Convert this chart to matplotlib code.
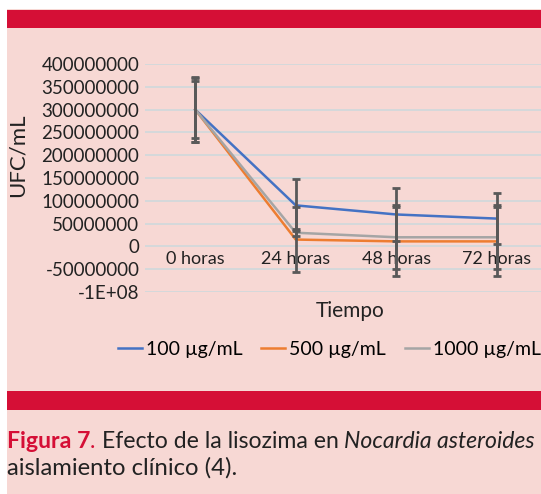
import matplotlib
matplotlib.use("Agg")
import matplotlib.pyplot as plt
from matplotlib.lines import Line2D
import matplotlib.patches as mpatches

# ---- data ----
categories = ["0 horas", "24 horas", "48 horas", "72 horas"]
series_names = ["100 µg/mL", "500 µg/mL", "1000 µg/mL"]
val_100 = [300e6, 90e6, 70e6, 61e6]
val_500 = [300e6, 15e6, 11e6, 11e6]
val_1000 = [300e6, 30e6, 20e6, 20e6]
err_100 = [62e6, 57e6, 59e6, 56e6]
err_500 = [72e6, 72e6, 75e6, 75e6]
err_1000 = [70e6, 8e6, 70e6, 70e6]
ytick_vals = [-100e6, -50e6, 0, 50e6, 100e6, 150e6, 200e6, 250e6, 300e6, 350e6, 400e6]
ytick_labels = ["-1E+08", "-50000000", "0", "50000000", "100000000", "150000000",
                "200000000", "250000000", "300000000", "350000000", "400000000"]
colors = ["#4472C4", "#ED7D31", "#A5A5A5"]

PINK = "#F7D8D4"
RED = "#D50F36"
TXT = "#222222"
FONT = "Lato"

W, H = 541, 494
fig = plt.figure(figsize=(W / 100, H / 100), dpi=100)
fig.patch.set_facecolor("white")

# background panels
fig.add_artist(mpatches.Rectangle((7 / W, 0), 1, 1 - 9 / H, transform=fig.transFigure,
                                  facecolor=PINK, edgecolor="none", zorder=-10))
fig.add_artist(mpatches.Rectangle((7 / W, 1 - 28 / H), 1, 18 / H, transform=fig.transFigure,
                                  facecolor=RED, edgecolor="none", zorder=-9))
fig.add_artist(mpatches.Rectangle((7 / W, 1 - 410 / H), 1, 19 / H, transform=fig.transFigure,
                                  facecolor=RED, edgecolor="none", zorder=-9))

ax = fig.add_axes([145 / W, (H - 292) / H, 402 / W, 228 / H])
ax.set_facecolor("none")
x = list(range(len(categories)))
vals = [val_100, val_500, val_1000]
errs = [err_100, err_500, err_1000]
for v, c in zip(vals, colors):
    ax.plot(x, v, color=c, lw=1.8, zorder=3)
for v, e in zip(vals, errs):
    ax.errorbar(x, v, yerr=e, fmt="none", ecolor="#595959", elinewidth=2.0,
                capsize=2.6, capthick=2.0, zorder=4)

ax.set_xlim(-0.5, len(categories) - 0.5)
ax.set_ylim(-100e6, 400e6)
ax.set_yticks(ytick_vals)
ax.set_yticklabels(ytick_labels, fontfamily=FONT, fontsize=13.5, color=TXT)
ax.grid(axis="y", color="#CFD9DC", lw=1.2, zorder=0)
ax.set_axisbelow(True)
for s in ["top", "right", "left"]:
    ax.spines[s].set_visible(False)
ax.spines["bottom"].set_position(("data", 0))
ax.spines["bottom"].set_visible(False)
ax.set_xticks(x)
ax.set_xticklabels(categories, fontfamily=FONT, fontsize=13, color=TXT)
ax.tick_params(axis="both", length=0)
ax.tick_params(axis="y", pad=4)
ax.tick_params(axis="x", pad=3)

fig.text(18 / W, 1 - 155 / H, "UFC/mL", rotation=90, ha="center", va="center",
         fontfamily=FONT, fontsize=16, color=TXT)
fig.text(350 / W, 1 - 311 / H, "Tiempo", ha="center", va="center",
         fontfamily=FONT, fontsize=15, color=TXT)

handles = [Line2D([0], [0], color=c, lw=1.8) for c in colors]
fig.legend(handles, series_names, loc="center left", bbox_to_anchor=(114 / W, 1 - 349 / H),
           ncol=3, frameon=False, handlelength=1.25, handletextpad=0.2, columnspacing=0.95,
           borderpad=0.2, borderaxespad=0.0,
           prop={"family": FONT, "size": 14})

# caption with mixed styles
fig.canvas.draw()
r = fig.canvas.get_renderer()
ypos = 1 - 441 / H
parts = [("Figura 7", RED, "bold", "normal"), (". ", RED, "normal", "normal"),
         ("Efecto de la lisozima en ", TXT, "normal", "normal"),
         ("Nocardia asteroides", TXT, "normal", "italic")]
xcur = 7 / W
for s, c, wgt, sty in parts:
    t = fig.text(xcur, ypos, s, ha="left", va="center", fontfamily=FONT, fontsize=16.6,
                 color=c, fontweight=wgt, fontstyle=sty)
    bb = t.get_window_extent(renderer=r)
    xcur = bb.x1 / W
fig.text(7 / W, 1 - 468 / H, "aislamiento clínico (4).", ha="left", va="center",
         fontfamily=FONT, fontsize=17.2, color=TXT)

fig.savefig("out.png", dpi=100, facecolor=fig.get_facecolor())
